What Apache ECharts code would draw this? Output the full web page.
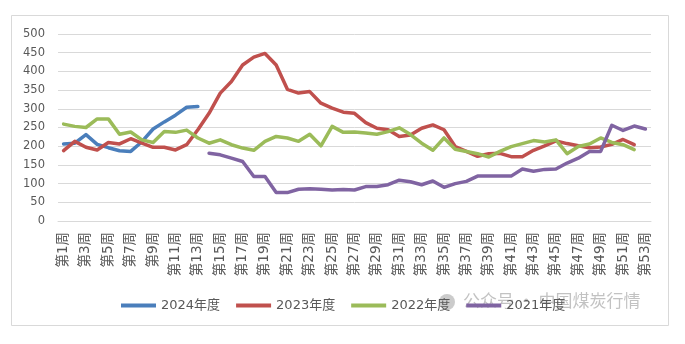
<!DOCTYPE html>
<html>
<head>
<meta charset="utf-8">
<script src="https://cdn.jsdelivr.net/npm/echarts@6/dist/echarts.min.js"></script>
<style>
html,body{margin:0;padding:0;background:#fff;}
#chart{width:685px;height:344px;}
</style>
</head>
<body>
<div id="chart"></div>
<script>
const weeks = ['第1周','第2周','第3周','第4周','第5周','第6周','第7周','第8周','第9周','第10周',
'第11周','第12周','第13周','第14周','第15周','第16周','第17周','第18周','第19周','第20周',
'第21周','第22周','第23周','第24周','第25周','第26周','第27周','第28周','第29周','第30周',
'第31周','第32周','第33周','第34周','第35周','第36周','第37周','第38周','第39周','第40周',
'第41周','第42周','第43周','第44周','第45周','第46周','第47周','第48周','第49周','第50周',
'第51周','第52周','第53周'];

const y2024 = [206,208,231,205,196,188,186,212,246,265,283,304,306];

const y2023 = [188,213,197,190,210,206,220,208,197,197,190,204,244,288,342,373,417,438,448,417,
352,342,346,315,302,291,288,263,248,244,226,230,248,257,244,199,186,173,180,181,
172,172,189,201,214,207,201,196,198,205,218,204];

const y2022 = [259,253,250,273,273,232,238,217,210,239,237,243,222,208,217,204,195,189,213,226,
222,213,232,201,253,237,238,235,232,239,249,231,208,189,222,192,186,180,171,186,
199,207,215,211,217,180,199,206,222,210,204,191];

const y2021 = [null,null,null,null,null,null,null,null,null,null,null,null,null,
181,177,168,159,119,119,76,76,85,86,85,83,84,83,92,92,97,109,105,97,107,90,100,106,
120,120,120,120,139,133,138,139,155,168,186,186,256,242,254,246];

const seriesNames = ['2024年度','2023年度','2022年度','2021年度'];
const seriesColors = ['#4a7ebb','#c0504d','#9bbb59','#8064a2'];
const seriesData = [y2024, y2023, y2022, y2021];

const chart = echarts.init(document.getElementById('chart'), null, {renderer:'canvas'});
const fontNum = '"DejaVu Sans", "Noto Sans CJK SC", sans-serif';

chart.setOption({
  animation: false,
  backgroundColor: '#ffffff',
  color: seriesColors,
  grid: {left: 58, right: 34, top: 34, bottom: 123, containLabel: false},
  legend: {
    data: seriesNames,
    icon: 'rect',
    left: 116, top: 294,
    itemWidth: 35, itemHeight: 4, itemGap: 16,
    textStyle: {fontFamily: fontNum, fontSize: 13, color: '#595959'}
  },
  xAxis: {
    type: 'category',
    data: weeks,
    boundaryGap: true,
    axisLine: {show: true, lineStyle: {color: '#d9d9d9', width: 1}},
    axisTick: {show: false},
    axisLabel: {interval: 1, rotate: 90, margin: 11, fontFamily: fontNum, fontSize: 13.5, color: '#595959'}
  },
  yAxis: {
    type: 'value',
    min: 0, max: 500, interval: 50,
    axisLine: {show: false},
    axisTick: {show: false},
    axisLabel: {margin: 13, fontFamily: fontNum, fontSize: 11.5, color: '#595959'},
    splitLine: {lineStyle: {color: '#d9d9d9', width: 1}}
  },
  series: seriesNames.map((n, i) => ({
    name: n,
    type: 'line',
    data: seriesData[i],
    symbol: 'none',
    showSymbol: false,
    connectNulls: false,
    lineStyle: {width: 3.5, color: seriesColors[i], join: 'round', cap: 'round'},
    itemStyle: {color: seriesColors[i]}
  })),
  graphic: [
    {type: 'rect', silent: true, shape: {x: 11.5, y: 15.5, width: 657, height: 310},
     style: {fill: 'none', stroke: '#d9d9d9', lineWidth: 1}},
    {type: 'circle', silent: true, shape: {cx: 447, cy: 302, r: 8},
     style: {fill: 'rgba(140,140,140,0.45)'}},
    {type: 'text', silent: true, left: 463, top: 292,
     style: {text: '公众号 · 中国煤炭行情', fontFamily: '"Noto Sans CJK SC", sans-serif', fontSize: 17,
             fill: 'rgba(120,120,120,0.45)'}}
  ]
});
</script>
</body>
</html>
